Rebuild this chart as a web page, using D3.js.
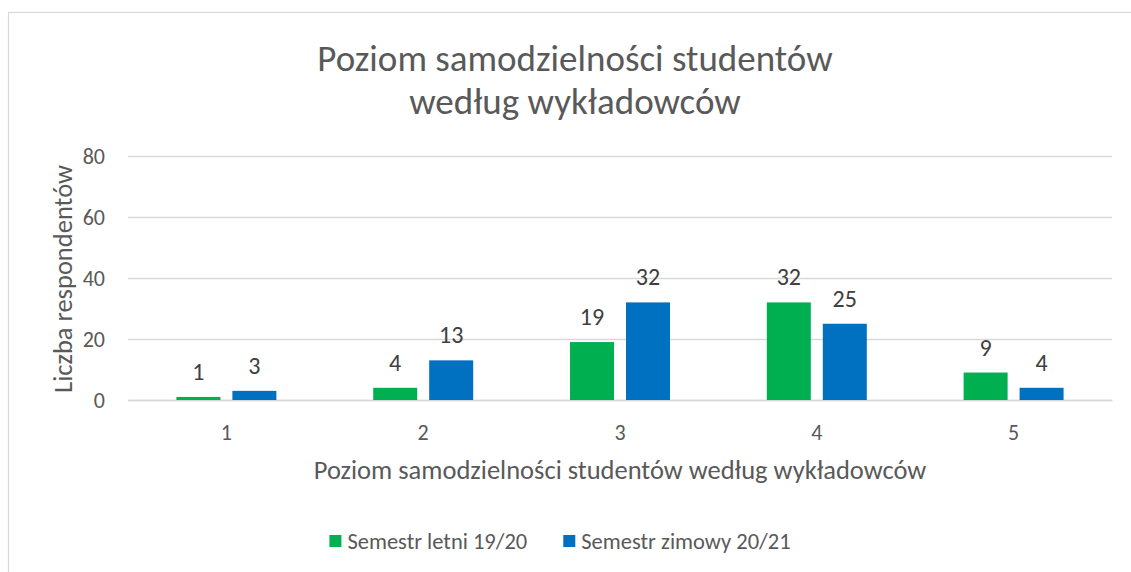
<!DOCTYPE html>
<html>
<head>
<meta charset="utf-8">
<script src="https://cdn.jsdelivr.net/npm/d3@7"></script>
<style>
  body { margin: 0; background: #fff; }
  text { font-family: Carlito, Calibri, Lato, sans-serif; }
</style>
</head>
<body>
<svg width="1131" height="572"></svg>
<script>
var categories = ["1", "2", "3", "4", "5"];
var seriesNames = ["Semestr letni 19/20", "Semestr zimowy 20/21"];
var letni = [1, 4, 19, 32, 9];
var zimowy = [3, 13, 32, 25, 4];
var yTicks = [0, 20, 40, 60, 80];
var colors = ["#00B050", "#0070C0"];

var width = 1131, height = 572;
var margin = {left: 128, right: 19, top: 156, bottom: 172};
var plotW = width - margin.left - margin.right;
var plotH = height - margin.top - margin.bottom;

var svg = d3.select("svg");

svg.append("rect")
  .attr("width", width).attr("height", height)
  .attr("fill", "#fff");

// chart frame (right and bottom edges fall outside the picture)
svg.append("rect")
  .attr("x", 8.5).attr("y", 12.5)
  .attr("width", width + 20).attr("height", height + 20)
  .attr("fill", "none")
  .attr("stroke", "#d9d9d9")
  .attr("stroke-width", 1.2);

// title
svg.append("text")
  .attr("x", 575).attr("y", 71)
  .attr("text-anchor", "middle")
  .attr("fill", "#595959")
  .style("font-size", "37px")
  .text("Poziom samodzielności studentów");
svg.append("text")
  .attr("x", 575).attr("y", 114)
  .attr("text-anchor", "middle")
  .attr("fill", "#595959")
  .style("font-size", "37px")
  .text("według wykładowców");

var data = categories.map(function(c, i){
  return {cat: c, values: [letni[i], zimowy[i]]};
});

var x0 = d3.scaleBand()
  .domain(categories)
  .range([0, plotW])
  .paddingInner(0.492)
  .paddingOuter(0.246);

var x1 = d3.scaleBand()
  .domain(d3.range(seriesNames.length))
  .range([0, x0.bandwidth()])
  .paddingInner(0.214);

var y = d3.scaleLinear()
  .domain([0, 80])
  .range([plotH, 0]);

var chartGroup = svg.append("g")
  .attr("transform", "translate(" + margin.left + "," + margin.top + ")");

// gridlines + y labels
var yAxis = d3.axisLeft(y).tickValues(yTicks).tickSize(-plotW).tickPadding(23);
var gy = chartGroup.append("g").call(yAxis);
gy.select(".domain").remove();
gy.selectAll(".tick line").attr("stroke", "#d9d9d9").attr("stroke-width", 1.3);
gy.selectAll(".tick text")
  .attr("fill", "#595959")
  .style("font-size", "22px")
  .style("font-family", "Carlito, Calibri, Lato, sans-serif");

// x axis
var xAxis = d3.axisBottom(x0.copy().paddingInner(0).paddingOuter(0)).tickSize(0).tickPadding(24);
var gx = chartGroup.append("g")
  .attr("transform", "translate(0," + plotH + ")")
  .call(xAxis);
gx.select(".domain").attr("stroke", "#d9d9d9").attr("stroke-width", 1.3);
gx.selectAll(".tick text")
  .attr("fill", "#595959")
  .style("font-size", "22px")
  .style("font-family", "Carlito, Calibri, Lato, sans-serif");

// bars
var groups = chartGroup.selectAll(".cat")
    .data(data)
  .enter().append("g")
    .attr("class", "cat")
    .attr("transform", function(d){ return "translate(" + x0(d.cat) + ",0)"; });

groups.selectAll("rect")
    .data(function(d){ return d.values; })
  .enter().append("rect")
    .attr("x", function(d, i){ return x1(i); })
    .attr("width", x1.bandwidth())
    .attr("y", function(d){ return y(d); })
    .attr("height", function(d){ return plotH - y(d); })
    .attr("fill", function(d, i){ return colors[i]; });

groups.selectAll(".lbl")
    .data(function(d){ return d.values; })
  .enter().append("text")
    .attr("class", "lbl")
    .attr("x", function(d, i){ return x1(i) + x1.bandwidth() / 2; })
    .attr("y", function(d){ return y(d) - 17; })
    .attr("text-anchor", "middle")
    .attr("fill", "#404040")
    .style("font-size", "24px")
    .text(function(d){ return d; });

// axis titles
svg.append("text")
  .attr("transform", "translate(72," + (margin.top + plotH / 2 + 1) + ") rotate(-90)")
  .attr("text-anchor", "middle")
  .attr("fill", "#595959")
  .style("font-size", "26.5px")
  .text("Liczba respondentów");

svg.append("text")
  .attr("x", margin.left + plotW / 2)
  .attr("y", 479)
  .attr("text-anchor", "middle")
  .attr("fill", "#595959")
  .style("font-size", "26.5px")
  .text("Poziom samodzielności studentów według wykładowców");

// legend
var legend = svg.append("g");
var lx = 0;
seriesNames.forEach(function(name, i){
  var item = legend.append("g").attr("transform", "translate(" + lx + ",0)");
  item.append("rect")
    .attr("x", 0).attr("y", -6)
    .attr("width", 12).attr("height", 12)
    .attr("fill", colors[i]);
  var t = item.append("text")
    .attr("x", 18).attr("y", 8)
    .attr("fill", "#595959")
    .style("font-size", "22.5px")
    .text(name);
  lx += 18 + t.node().getComputedTextLength() + 36;
});
var lw = legend.node().getBBox().width;
legend.attr("transform", "translate(" + (560 - lw / 2) + ",541)");
</script>
</body>
</html>
